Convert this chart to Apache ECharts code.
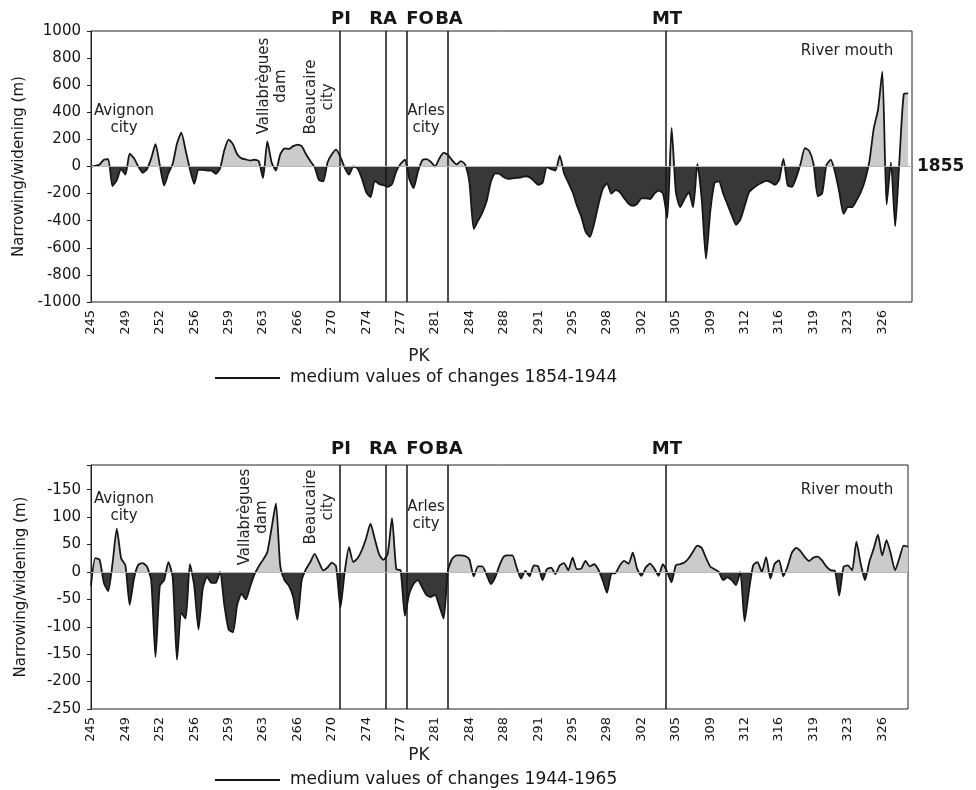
<!DOCTYPE html>
<html>
<head>
<meta charset="utf-8">
<script src="https://cdn.jsdelivr.net/npm/echarts@6/dist/echarts.min.js"></script>
<style>
html, body { margin: 0; padding: 0; background: #fff; }
#chart { width: 976px; height: 790px; }
</style>
</head>
<body>
<div id="chart"></div>
<script>
// PK tick labels along the river (one label every 8 samples)
const pkLabels = ['245', '249', '252', '256', '259', '263', '266', '270', '274', '277', '281', '284',
  '288', '291', '295', '298', '302', '305', '309', '312', '316', '319', '323', '326'];
const stepsPerLabel = 8;

// y labels of the lower panel, as printed (the top one reads -150)
const lowerYLabels = ['-250', '-200', '-150', '-100', '-50', '0', '50', '100', '-150'];

// structures, position in samples
const stations = [
  { name: 'PI', at: 57.9 },
  { name: 'RA', at: 68.6 },
  { name: 'FO', at: 73.5 },
  { name: 'BA', at: 83.0 },
  { name: 'MT', at: 133.7 }
];

// narrowing / widening (m), 1854-1944
const changes1854 = [
  0, 5, 15, 50, 55, -145, -100, -20, -60, 94,
  60, 0, -47, -20, 60, 165, 10, -140, -50, 20,
  170, 250, 120, -20, -128, -25, -25, -30, -30, -55,
  -15, 120, 199, 165, 90, 60, 52, 44, 50, 40,
  -85, 185, 30, -30, 90, 133, 130, 150, 162, 150,
  90, 40, -5, -100, -110, 30, 90, 125, 70, -10,
  -60, 0, -15, -90, -190, -225, -105, -130, -138, -150,
  -130, -35, 20, 50, -90, -160, -40, 45, 55, 35,
  0, 60, 100, 85, 45, 15, 40, 15, -120, -460,
  -400, -340, -255, -110, -50, -55, -80, -92, -88, -84,
  -80, -72, -80, -107, -135, -120, -5, -20, -30, 80,
  -50, -120, -190, -290, -370, -480, -520, -420, -280, -165,
  -125, -200, -175, -190, -235, -275, -290, -275, -235, -235,
  -240, -200, -178, -200, -380, 285, -190, -300, -240, -190,
  -300, 20, -240, -680, -330, -120, -110, -200, -280, -360,
  -430, -390, -290, -190, -160, -137, -120, -105, -115, -135,
  -100, 57, -140, -150, -80, 20, 135, 115, 20, -220,
  -200, 10, 50, -40, -190, -350, -300, -300, -250, -190,
  -100, 40, 280, 420, 700, -280, 30, -440, 60, 535, 540
];

// narrowing / widening (m), 1944-1965
const changes1944 = [
  -25, 25, 22, -20, -35, 15, 79, 25, 12, -60,
  -12, 13, 16, 10, -15, -155, -25, -15, 18, -10,
  -160, -75, -85, 14, -25, -105, -30, -9, -20, -20,
  0, -60, -105, -110, -60, -40, -50, -27, -5, 10,
  22, 36, 80, 125, 12, -15, -25, -45, -87, -15,
  5, 18, 33, 18, 3, 8, 17, 10, -65, 0,
  45, 18, 25, 40, 62, 88, 60, 32, 22, 33,
  98, 5, 3, -80, -40, -22, -15, -28, -42, -46,
  -42, -62, -85, 3, 24, 30, 30, 29, 23, -8,
  10, 10, -5, -22, -10, 12, 28, 30, 30, 8,
  -12, 2, -8, 12, 10, -15, 5, 8, -4, 12,
  16, 3, 26, 5, 6, 20, 10, 14, 4, -15,
  -38, -3, -2, 12, 20, 15, 35, 6, -7, 8,
  15, 6, -7, 14, 0, -19, 12, 14, 17, 25,
  37, 48, 44, 26, 10, 5, 0, -15, -10, -15,
  -24, 0, -90, -35, 12, 18, 0, 27, -12, 15,
  21, -8, 10, 35, 44, 38, 27, 20, 26, 28,
  21, 10, 3, 2, -43, 9, 12, 3, 55, 15,
  -15, 18, 42, 68, 30, 58, 33, 3, 25, 48, 46
];

const font = '"DejaVu Sans", sans-serif';
const ink = '#161616';
const labelShift = { PI: 1, RA: -3, FO: 13, BA: 1, MT: 1 };

function xAxisFor(gridIndex, max) {
  return {
    type: 'value', gridIndex, min: 0, max, interval: stepsPerLabel,
    axisLine: { lineStyle: { color: '#222', width: 1 } },
    axisTick: { show: false },
    splitLine: { show: false },
    axisLabel: {
      rotate: 90, margin: 8, fontSize: 13, fontFamily: font, color: ink,
      formatter: v => (v % stepsPerLabel === 0 ? (pkLabels[v / stepsPerLabel] || '') : '')
    }
  };
}

function yAxisFor(gridIndex, min, max, interval, formatter) {
  return {
    type: 'value', gridIndex, min, max, interval,
    name: 'Narrowing/widening (m)', nameLocation: 'middle', nameGap: 62,
    nameTextStyle: { fontSize: 15, fontFamily: font, color: ink },
    axisLine: { show: true, lineStyle: { color: '#222', width: 1 } },
    axisTick: { show: true, length: 4, lineStyle: { color: '#222' } },
    splitLine: { show: false },
    axisLabel: { margin: 10, fontSize: 15, fontFamily: font, color: ink, formatter, showMaxLabel: true }
  };
}

function markers(year, dist) {
  const data = stations.map(s => ({
    name: s.name, xAxis: s.at,
    label: { offset: [labelShift[s.name], 0] }
  }));
  data.push({
    name: year, yAxis: 0,
    lineStyle: { color: '#b8b8b8', width: 1 },
    label: { show: !!year, position: 'end', distance: 5, fontSize: 17, offset: [0, 0] }
  });
  return {
    silent: true, symbol: ['none', 'none'], animation: false,
    lineStyle: { color: ink, width: 1.5, type: 'solid' },
    label: {
      show: true, position: 'end', formatter: '{b}', distance: dist,
      fontFamily: font, fontSize: 18, fontWeight: 'bold', color: ink
    },
    data
  };
}

function changeSeries(name, values, gi, year, dist) {
  return {
    type: 'line', name, xAxisIndex: gi, yAxisIndex: gi,
    data: values.map((v, i) => [i, v]),
    symbol: 'none', showSymbol: false, smooth: 0.2,
    lineStyle: { color: ink, width: 1.8 },
    areaStyle: { opacity: 1 },
    markLine: markers(year, dist)
  };
}

function note(x, y, text, rotated, size) {
  return {
    type: 'text', x, y, rotation: rotated ? Math.PI / 2 : 0, silent: true,
    style: {
      text, fill: '#222', font: (size || 15) + 'px ' + font,
      align: 'center', verticalAlign: 'middle', lineHeight: 17
    }
  };
}

function legendKey(y, text) {
  return [
    { type: 'line', silent: true, shape: { x1: 215, y1: y, x2: 280, y2: y }, style: { stroke: ink, lineWidth: 2 } },
    { type: 'text', x: 290, y, silent: true, style: { text, fill: ink, font: '17px ' + font, verticalAlign: 'middle' } }
  ];
}

const option = {
  animation: false,
  backgroundColor: '#fff',
  grid: [
    { left: 91, top: 31, width: 821, height: 271, show: true, borderColor: '#222', borderWidth: 1 },
    { left: 91, top: 465, width: 817, height: 244, show: true, borderColor: '#222', borderWidth: 1 }
  ],
  xAxis: [xAxisFor(0, 190.9), xAxisFor(1, 190)],
  yAxis: [
    yAxisFor(0, -1000, 1000, 200, v => String(v)),
    yAxisFor(1, -250, 195, 50, v => (v % 50 === 0 ? (lowerYLabels[(v + 250) / 50] || '') : ''))
  ],
  visualMap: [{
    type: 'piecewise', show: false, seriesIndex: [0, 1], dimension: 1,
    pieces: [
      { gte: -3000, lt: 0, color: '#383838' },
      { gte: 0, lte: 3000, color: '#cbcbcb' }
    ]
  }],
  series: [
    changeSeries('medium values of changes 1854-1944', changes1854, 0, '1855', 3),
    changeSeries('medium values of changes 1944-1965', changes1944, 1, '', 7)
  ],
  graphic: [
    note(124, 120, 'Avignon\ncity'),
    note(273, 86, 'Vallabrègues\ndam', true),
    note(320, 97, 'Beaucaire\ncity', true),
    note(426, 120, 'Arles\ncity'),
    note(847, 51, 'River mouth'),
    note(419, 357, 'PK', false, 17),
    ...legendKey(378, 'medium values of changes 1854-1944'),
    note(124, 508, 'Avignon\ncity'),
    note(254, 517, 'Vallabrègues\ndam', true),
    note(320, 507, 'Beaucaire\ncity', true),
    note(426, 516, 'Arles\ncity'),
    note(847, 490, 'River mouth'),
    note(419, 756, 'PK', false, 17),
    ...legendKey(780, 'medium values of changes 1944-1965')
  ]
};

const chart = echarts.init(document.getElementById('chart'));
chart.setOption(option);
</script>
</body>
</html>
